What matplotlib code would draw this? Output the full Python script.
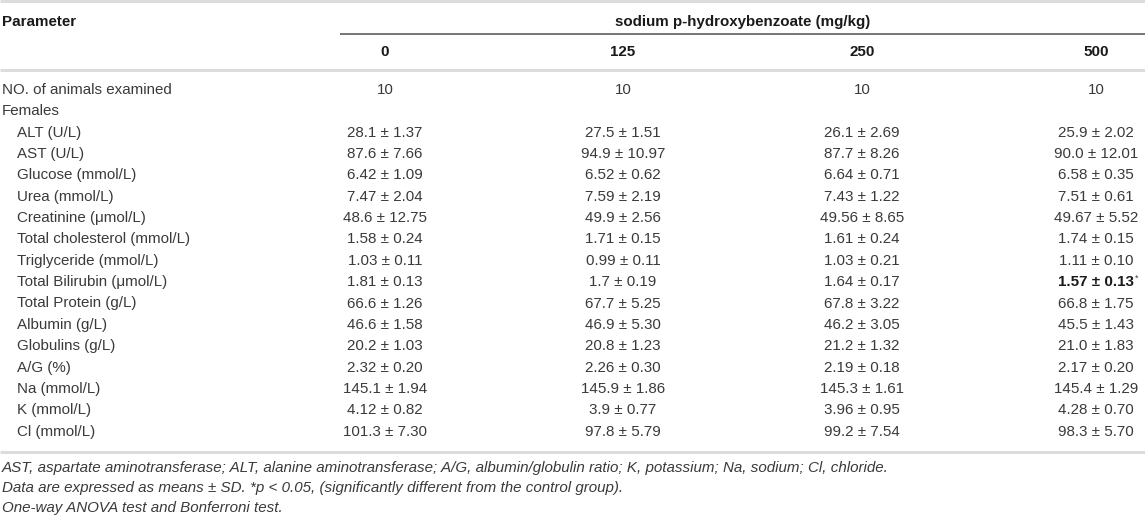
import matplotlib
matplotlib.use("Agg")
import matplotlib.pyplot as plt

plt.rcParams['font.family'] = ['Liberation Sans', 'DejaVu Sans']

# ---------------- data ----------------
group_title = "sodium p-hydroxybenzoate (mg/kg)"
doses = ["0", "125", "250", "500"]
n_animals = ["10", "10", "10", "10"]
section = "Females"
parameters = ["ALT (U/L)", "AST (U/L)", "Glucose (mmol/L)", "Urea (mmol/L)",
              "Creatinine (μmol/L)", "Total cholesterol (mmol/L)",
              "Triglyceride (mmol/L)", "Total Bilirubin (μmol/L)",
              "Total Protein (g/L)", "Albumin (g/L)", "Globulins (g/L)",
              "A/G (%)", "Na (mmol/L)", "K (mmol/L)", "Cl (mmol/L)"]
mean_0 = ["28.1", "87.6", "6.42", "7.47", "48.6", "1.58", "1.03", "1.81",
          "66.6", "46.6", "20.2", "2.32", "145.1", "4.12", "101.3"]
sd_0 = ["1.37", "7.66", "1.09", "2.04", "12.75", "0.24", "0.11", "0.13",
        "1.26", "1.58", "1.03", "0.20", "1.94", "0.82", "7.30"]
mean_125 = ["27.5", "94.9", "6.52", "7.59", "49.9", "1.71", "0.99", "1.7",
            "67.7", "46.9", "20.8", "2.26", "145.9", "3.9", "97.8"]
sd_125 = ["1.51", "10.97", "0.62", "2.19", "2.56", "0.15", "0.11", "0.19",
          "5.25", "5.30", "1.23", "0.30", "1.86", "0.77", "5.79"]
mean_250 = ["26.1", "87.7", "6.64", "7.43", "49.56", "1.61", "1.03", "1.64",
            "67.8", "46.2", "21.2", "2.19", "145.3", "3.96", "99.2"]
sd_250 = ["2.69", "8.26", "0.71", "1.22", "8.65", "0.24", "0.21", "0.17",
          "3.22", "3.05", "1.32", "0.18", "1.61", "0.95", "7.54"]
mean_500 = ["25.9", "90.0", "6.58", "7.51", "49.67", "1.74", "1.11", "1.57",
            "66.8", "45.5", "21.0", "2.17", "145.4", "4.28", "98.3"]
sd_500 = ["2.02", "12.01", "0.35", "0.61", "5.52", "0.15", "0.10", "0.13",
          "1.75", "1.43", "1.83", "0.20", "1.29", "0.70", "5.70"]
significant = [(7, 3)]  # (row, dose column) p < 0.05
footnotes = [
    "AST, aspartate aminotransferase; ALT, alanine aminotransferase; A/G, albumin/globulin ratio; K, potassium; Na, sodium; Cl, chloride.",
    "Data are expressed as means ± SD. *p < 0.05, (significantly different from the control group).",
    "One-way ANOVA test and Bonferroni test.",
]

means = [mean_0, mean_125, mean_250, mean_500]
sds = [sd_0, sd_125, sd_250, sd_500]

# ---------------- layout ----------------
W, H = 1145, 517
fig = plt.figure(figsize=(W / 100, H / 100), dpi=100)
ax = fig.add_axes([0, 0, 1, 1])
ax.set_xlim(0, W)
ax.set_ylim(H, 0)
ax.axis('off')

FS = 10.9
BODY = '#3a3a3a'
HEAD = '#1a1a1a'
LIGHT = '#dcdcdc'

col_x = [385, 623, 862, 1096]
x_left = 2
x_indent = 17
y_title = 22
y_head = 52
y_first = 90
step = 21.35

# rules
ax.plot([0, W], [0.8, 0.8], color=LIGHT, lw=2.2, solid_capstyle='butt')
ax.plot([340, W], [34, 34], color='#6a6a6a', lw=1.3, solid_capstyle='butt')
ax.plot([0, W], [70, 70], color=LIGHT, lw=2.2, solid_capstyle='butt')

ax.text(x_left, y_title, "Parameter", fontsize=FS, fontweight='bold',
        color=HEAD, ha='left', va='center')
ax.text((340 + W) / 2, y_title, group_title, fontsize=FS, fontweight='bold',
        color=HEAD, ha='center', va='center')
for x, d in zip(col_x, doses):
    ax.text(x, y_head, d, fontsize=FS, fontweight='bold', color=HEAD,
            ha='center', va='center')

# rows
ax.text(x_left, y_first, "NO. of animals examined", fontsize=FS, color=BODY,
        ha='left', va='center')
for x, n in zip(col_x, n_animals):
    ax.text(x, y_first, n, fontsize=FS, color=BODY, ha='center', va='center')
ax.text(x_left, y_first + step, section, fontsize=FS, color=BODY,
        ha='left', va='center')

fig.canvas.draw()
renderer = fig.canvas.get_renderer()
for i, p in enumerate(parameters):
    y = y_first + (i + 2) * step
    ax.text(x_indent, y, p, fontsize=FS, color=BODY, ha='left', va='center')
    for j, x in enumerate(col_x):
        s = f"{means[j][i]} ± {sds[j][i]}"
        if (i, j) in significant:
            t = ax.text(x, y, s, fontsize=FS, fontweight='bold', color=HEAD,
                        ha='center', va='center')
            bb = t.get_window_extent(renderer=renderer)
            xr = bb.x1  # pixels
            ax.text(xr + 0.5, y - 4, "*", fontsize=FS * 0.6, color=BODY,
                    ha='left', va='center')
        else:
            ax.text(x, y, s, fontsize=FS, color=BODY, ha='center', va='center')

y_bottom = y_first + 16 * step + 20
ax.plot([0, W], [y_bottom, y_bottom], color=LIGHT, lw=2.2, solid_capstyle='butt')

for k, fn in enumerate(footnotes):
    ax.text(x_left, y_bottom + 16 + k * 20, fn, fontsize=FS, style='italic',
            color=BODY, ha='left', va='center')

fig.savefig("out.png", dpi=100, facecolor='white')
